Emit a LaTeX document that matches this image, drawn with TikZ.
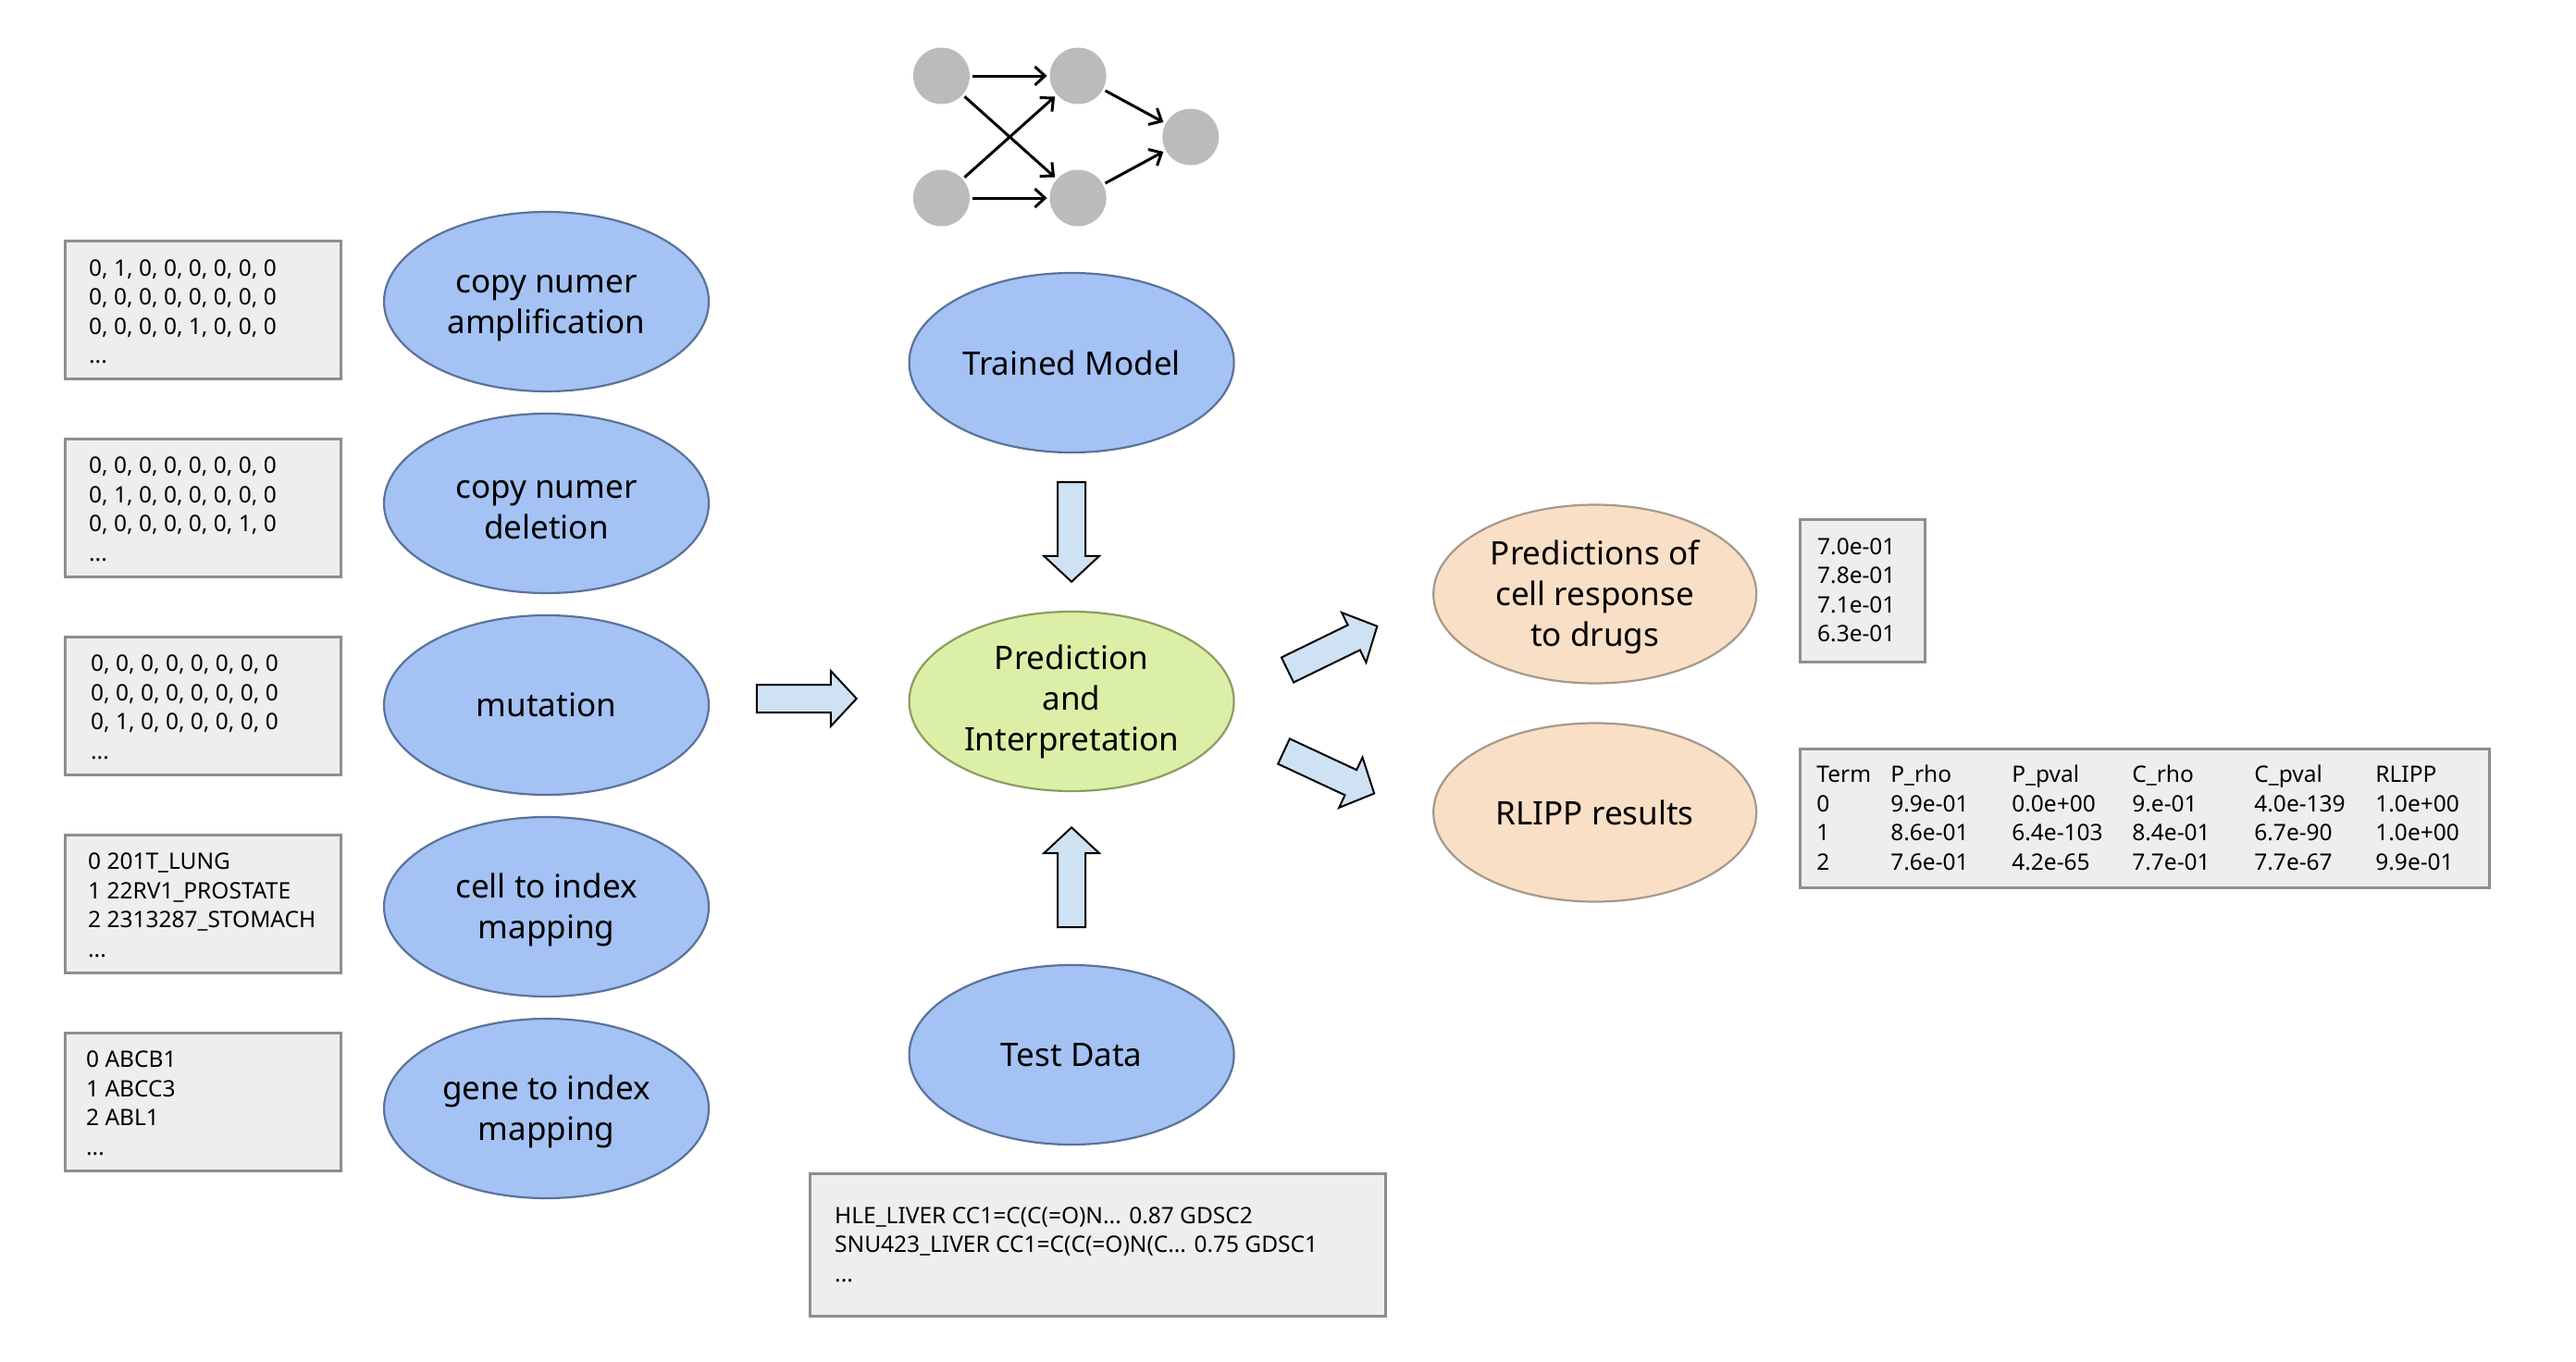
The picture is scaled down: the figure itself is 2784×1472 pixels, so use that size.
\documentclass[tikz,border=0pt]{standalone}
\usepackage{fontspec}
\setmainfont{Noto Sans}
\usetikzlibrary{shapes.geometric,arrows.meta}
\definecolor{bluefill}{HTML}{A4C2F4}
\definecolor{blueline}{HTML}{5B7399}
\definecolor{greenfill}{HTML}{DCEFA6}
\definecolor{greenline}{HTML}{8B9D62}
\definecolor{peachfill}{HTML}{F9DFC6}
\definecolor{peachline}{HTML}{A6998B}
\definecolor{boxfill}{HTML}{EEEEEE}
\definecolor{boxline}{HTML}{8E8E8E}
\definecolor{arrowfill}{HTML}{CFE2F3}
\definecolor{neurongray}{HTML}{BBBBBB}
\newcommand\myblockarrow[3]{%
  \begin{scope}[shift={(#1,#2)},rotate=#3]
    \draw[blockarrow] (0,-15) -- (80,-15) -- (80,-30) -- (108,0) -- (80,30) -- (80,15) -- (0,15) -- cycle;
  \end{scope}}
\newcommand\topfix{\rule{0pt}{33pt}}
\begin{document}
\begin{tikzpicture}[x=0.9975pt,y=-1pt,
  ell/.style={ellipse, minimum width=351pt, minimum height=194pt, line width=2.2pt, inner sep=0pt, align=center, font=\fontsize{35}{44}\selectfont},
  blueell/.style={ell, draw=blueline, fill=bluefill},
  greenell/.style={ell, draw=greenline, fill=greenfill},
  peachell/.style={ell, draw=peachline, fill=peachfill},
  databox/.style={rectangle, draw=boxline, fill=boxfill, line width=3pt, inner sep=0pt},
  leftbox/.style={databox, minimum width=298pt, minimum height=149pt},
  boxtext/.style={anchor=west, inner sep=0pt, align=left, font=\fontsize{24.5}{31.5}\selectfont},
  neuron/.style={circle, fill=neurongray, minimum size=61pt, inner sep=0pt, outer sep=3pt},
  nnarrow/.style={line width=3pt, -{Straight Barb[length=11pt,width=20pt]}},
  blockarrow/.style={draw=black, fill=arrowfill, line width=2pt, line join=miter},
]
\useasboundingbox (0pt,0pt) rectangle (2784pt,-1472pt);

% left data boxes
\node[leftbox] (b1) at (220,334.5) {};
\node[leftbox] (b2) at (220,548.5) {};
\node[leftbox] (b3) at (220,762.5) {};
\node[leftbox] (b4) at (220,976.5) {};
\node[leftbox] (b5) at (220,1190.5) {};
\node[boxtext] (t1) at ([xshift=27pt,yshift=-2.5pt]b1.west) {0, 1, 0, 0, 0, 0, 0, 0\\0, 0, 0, 0, 0, 0, 0, 0\\0, 0, 0, 0, 1, 0, 0, 0\\...};
\node[boxtext] (t2) at ([xshift=27pt,yshift=-2pt]b2.west) {0, 0, 0, 0, 0, 0, 0, 0\\0, 1, 0, 0, 0, 0, 0, 0\\0, 0, 0, 0, 0, 0, 1, 0\\...};
\node[boxtext] (t3) at ([xshift=29pt,yshift=-2pt]b3.west) {0, 0, 0, 0, 0, 0, 0, 0\\0, 0, 0, 0, 0, 0, 0, 0\\0, 1, 0, 0, 0, 0, 0, 0\\...};
\node[boxtext] (t4) at ([xshift=26pt,yshift=-2pt]b4.west) {0 201T\_LUNG\\1 22RV1\_PROSTATE\\2 2313287\_STOMACH\\...};
\node[boxtext] (t5) at ([xshift=24pt,yshift=-2pt]b5.west) {0 ABCB1\\1 ABCC3\\2 ABL1\\...};

% left ellipses
\node[blueell] (e1) at (592,326) {\topfix copy numer\\amplification};
\node[blueell] (e2) at (592,544) {\topfix copy numer\\deletion};
\node[blueell] (e3) at (592,762) {mutation};
\node[blueell] (e4) at (592,980) {\topfix cell to index\\mapping};
\node[blueell] (e5) at (592,1198) {\topfix gene to index\\mapping};

% neural network icon
\node[neuron] (n1) at (1020,82) {};
\node[neuron] (n2) at (1168,82) {};
\node[neuron] (n3) at (1290,148) {};
\node[neuron] (n4) at (1020,214) {};
\node[neuron] (n5) at (1168,214) {};
\draw[nnarrow] (n1) -- (n2);
\draw[nnarrow] (n4) -- (n5);
\draw[nnarrow] (n1) -- (n5);
\draw[nnarrow] (n4) -- (n2);
\draw[nnarrow] (n2) -- (n3);
\draw[nnarrow] (n5) -- (n3);

% centre column
\node[blueell] (tm) at (1161,392) {Trained Model};
\node[greenell] (pi) at (1161,758) {Prediction\\and\\Interpretation};
\node[blueell] (td) at (1161,1140) {Test Data};
\node[databox, minimum width=622pt, minimum height=154pt] (tdbox) at (1189.5,1345) {};
\node[boxtext] (tdtxt) at ([xshift=28pt]tdbox.west) {HLE\_LIVER CC1=C(C(=O)N... 0.87 GDSC2\\SNU423\_LIVER CC1=C(C(=O)N(C... 0.75 GDSC1\\...};

% block arrows
\myblockarrow{820}{755}{0}
\myblockarrow{1161}{521}{-90}
\myblockarrow{1161}{1002}{90}
\myblockarrow{1395}{724}{26}
\myblockarrow{1391}{812}{-25}

% right side
\node[peachell, minimum width=349pt, minimum height=193pt] (pr) at (1728,642) {\topfix Predictions of\\cell response\\to drugs};
\node[peachell, minimum width=349pt, minimum height=193pt] (rl) at (1728,878) {RLIPP results};
\node[databox, minimum width=135pt, minimum height=154pt] (prbox) at (2018,638) {};
\node[boxtext] (prtxt) at ([xshift=20pt]prbox.west) {7.0e-01\\7.8e-01\\7.1e-01\\6.3e-01};
\node[databox, minimum width=745pt, minimum height=150pt] (rlbox) at (2324,884) {};
\node[boxtext] (rltxt) at ([xshift=19pt]rlbox.west) {%
\makebox[80pt][l]{Term}\makebox[131pt][l]{P\_rho}\makebox[130pt][l]{P\_pval}\makebox[132pt][l]{C\_rho}\makebox[131pt][l]{C\_pval}RLIPP\\
\makebox[80pt][l]{0}\makebox[131pt][l]{9.9e-01}\makebox[130pt][l]{0.0e+00}\makebox[132pt][l]{9.e-01}\makebox[131pt][l]{4.0e-139}1.0e+00\\
\makebox[80pt][l]{1}\makebox[131pt][l]{8.6e-01}\makebox[130pt][l]{6.4e-103}\makebox[132pt][l]{8.4e-01}\makebox[131pt][l]{6.7e-90}1.0e+00\\
\makebox[80pt][l]{2}\makebox[131pt][l]{7.6e-01}\makebox[130pt][l]{4.2e-65}\makebox[132pt][l]{7.7e-01}\makebox[131pt][l]{7.7e-67}9.9e-01};
\end{tikzpicture}
\end{document}
